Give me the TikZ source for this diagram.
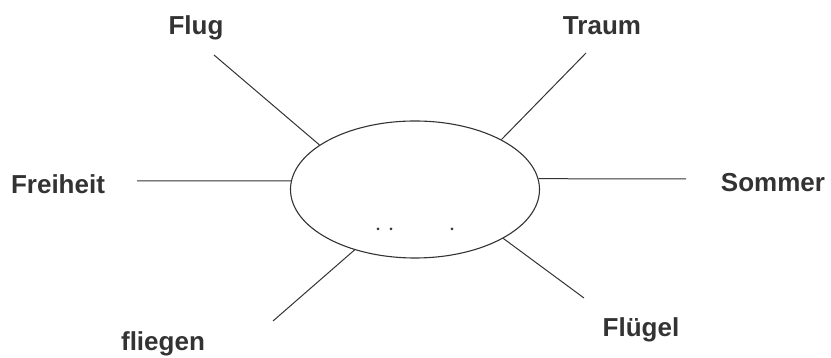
\documentclass[tikz,border=0pt]{standalone}
\usepackage{fontspec}
\setmainfont{Liberation Sans}
\usetikzlibrary{shapes.geometric}
\definecolor{inkgray}{HTML}{333333}

\begin{document}
\begin{tikzpicture}[
  x=1pt,y=1pt,font=\fontsize{26}{30}\selectfont\bfseries,
  hub/.style={draw=inkgray,ellipse,line width=1.1pt,minimum width=249pt,minimum height=137pt,inner sep=0pt},
  word/.style={text=inkgray,anchor=base,inner sep=0pt},
  spoke/.style={draw=inkgray,line width=1pt}
]
\useasboundingbox (0,0) rectangle (831,358);
\node[hub] (center) at (415,168.5) {};
% words round the hub
\node[word] (flug) at (196,323) {Flug};
\node[word] (traum) at (602,323) {Traum};
\node[word] (freiheit) at (58,164) {Freiheit};
\node[word] (sommer) at (773,166) {Sommer};
\node[word] (fliegen) at (163,7) {fliegen};
\node[word] (fluegel) at (641,21) {Flügel};
% free ends of the spokes
\coordinate (flugEnd) at (214,303);
\coordinate (traumEnd) at (586,305);
\coordinate (freiheitEnd) at (137,177);
\coordinate (sommerEnd) at (686,179);
\coordinate (fliegenEnd) at (273,37);
\coordinate (fluegelEnd) at (584,60);
\draw[spoke] (center.155) -- (flugEnd);
\draw[spoke] (center.30) -- (traumEnd);
\draw[spoke] (center.176) -- (freiheitEnd);
\draw[spoke] (center.5) -- (sommerEnd);
\draw[spoke] (center.225) -- (fliegenEnd);
\draw[spoke] (center.331) -- (fluegelEnd);
% dots inside
\fill[inkgray] (378,129) circle (1.5) (391,129) circle (1.5) (452,129) circle (1.5);
\end{tikzpicture}
\end{document}
